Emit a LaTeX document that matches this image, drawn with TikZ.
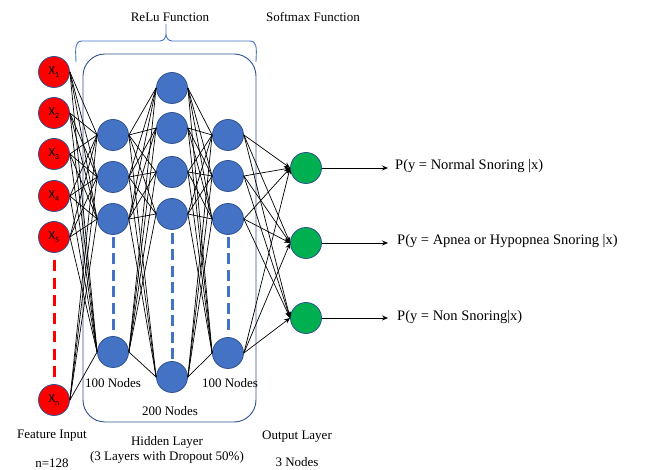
\documentclass[tikz,border=0pt]{standalone}
\usepackage{fontspec}
\setmainfont{Liberation Serif}
\newfontfamily\calib{Carlito}
\usetikzlibrary{arrows.meta}
\definecolor{inred}{HTML}{FF0000}
\definecolor{hidblue}{HTML}{4472C4}
\definecolor{edgeblue}{HTML}{2F528F}
\definecolor{outgreen}{HTML}{00B050}
\begin{document}
\begin{tikzpicture}[x=1pt,y=-1pt,
  neuron/.style={circle,minimum size=31pt,inner sep=0pt,draw=edgeblue,line width=0.8pt},
  innode/.style={neuron,fill=inred,font=\calib\fontsize{12.5}{12.5}\selectfont},
  hidnode/.style={neuron,fill=hidblue},
  outnode/.style={neuron,fill=outgreen},
  conn/.style={black,line width=0.7pt},
  arr/.style={conn,-{Stealth[length=6pt,width=5pt]}},
  lbl/.style={font=\fontsize{13}{15}\selectfont,inner sep=0pt},
  plbl/.style={font=\fontsize{14.5}{16}\selectfont,inner sep=0pt,anchor=west},
  reddash/.style={inred,line width=3pt,dash pattern=on 11pt off 6.75pt},
  bluedash/.style={hidblue,line width=3pt,dash pattern=on 11pt off 5.5pt}]
\useasboundingbox (0,0) rectangle (646,470);

% hidden layer box and brace
\draw[edgeblue,line width=0.9pt,rounded corners=22pt] (83,54) rectangle (256,422);
\draw[hidblue,line width=0.9pt] (76,62) to[out=90,in=180] (82,41) -- (160,41) to[out=0,in=-90] (166,34) -- (166,24)
  (166,34) to[out=-90,in=180] (172,41) -- (250,41) to[out=0,in=90] (256,62);

% dashed continuation lines
\draw[reddash] (54,260) -- (54,377);
\draw[bluedash] (113,237) -- (113,330.5);
\draw[bluedash] (172,233) -- (172,359.5);
\draw[bluedash] (228,237) -- (228,330.5);

% input nodes
\node[innode] (i1) at (54,72) {X\raisebox{-0.35ex}{\fontsize{8}{8}\selectfont 1}};
\node[innode] (i2) at (54,113) {X\raisebox{-0.35ex}{\fontsize{8}{8}\selectfont 2}};
\node[innode] (i3) at (54,154) {X\raisebox{-0.35ex}{\fontsize{8}{8}\selectfont 3}};
\node[innode] (i4) at (54,196) {X\raisebox{-0.35ex}{\fontsize{8}{8}\selectfont 4}};
\node[innode] (i5) at (54,237) {X\raisebox{-0.35ex}{\fontsize{8}{8}\selectfont 5}};
\node[innode] (i6) at (54,400) {X\raisebox{-0.35ex}{\fontsize{8}{8}\selectfont n}};

% hidden layer 1
\node[hidnode] (a1) at (113,135) {};
\node[hidnode] (a2) at (113,177) {};
\node[hidnode] (a3) at (113,219) {};
\node[hidnode] (a4) at (113,352) {};
% hidden layer 2
\node[hidnode] (b1) at (172,88) {};
\node[hidnode] (b2) at (172,128) {};
\node[hidnode] (b3) at (172,172) {};
\node[hidnode] (b4) at (172,214) {};
\node[hidnode] (b5) at (172,377) {};
% hidden layer 3
\node[hidnode] (c1) at (228,135) {};
\node[hidnode] (c2) at (228,176) {};
\node[hidnode] (c3) at (228,219) {};
\node[hidnode] (c4) at (228,353) {};
% output
\node[outnode] (o1) at (306,168) {};
\node[outnode] (o2) at (306,243) {};
\node[outnode] (o3) at (306,318) {};

% connections
\foreach \i in {i1,i2,i3,i4,i5,i6}
  \foreach \j in {a1,a2,a3,a4}
    \draw[conn] (\i.east) -- (\j.west);
\foreach \i in {a1,a2,a3,a4}
  \foreach \j in {b1,b2,b3,b4,b5}
    \draw[conn] (\i.east) -- (\j.west);
\foreach \i in {b1,b2,b3,b4,b5}
  \foreach \j in {c1,c2,c3,c4}
    \draw[conn] (\i.east) -- (\j.west);
\foreach \i in {c1,c2,c3,c4}
  \foreach \j in {o1,o2,o3}
    \draw[arr] (\i.east) -- (\j.west);

% output probabilities
\coordinate (e1) at (388,168);
\coordinate (e2) at (388,243);
\coordinate (e3) at (388,318);
\draw[arr] (o1) -- (e1);
\draw[arr] (o2) -- (e2);
\draw[arr] (o3) -- (e3);
\node[plbl] (p1) at (395,166) {P(y = Normal Snoring |x)};
\node[plbl] (p2) at (397,241) {P(y = Apnea or Hypopnea Snoring |x)};
\node[plbl] (p3) at (397,317) {P(y = Non Snoring|x)};

% labels
\node[lbl] (t1) at (170,17) {ReLu Function};
\node[lbl] (t2) at (313,17) {Softmax Function};
\node[lbl] (n1) at (113,383) {100 Nodes};
\node[lbl] (n2) at (170,411) {200 Nodes};
\node[lbl] (n3) at (230,383) {100 Nodes};
\node[lbl] (f1) at (52,436) {Feature Input};
\node[lbl] (f2) at (52,463) {n=128};
\node[lbl] (h1) at (167,442) {Hidden Layer};
\node[lbl] (h2) at (167,457) {(3 Layers with Dropout 50\%)};
\node[lbl] (ol1) at (297,437) {Output Layer};
\node[lbl] (ol2) at (297,462) {3 Nodes};
\end{tikzpicture}
\end{document}
